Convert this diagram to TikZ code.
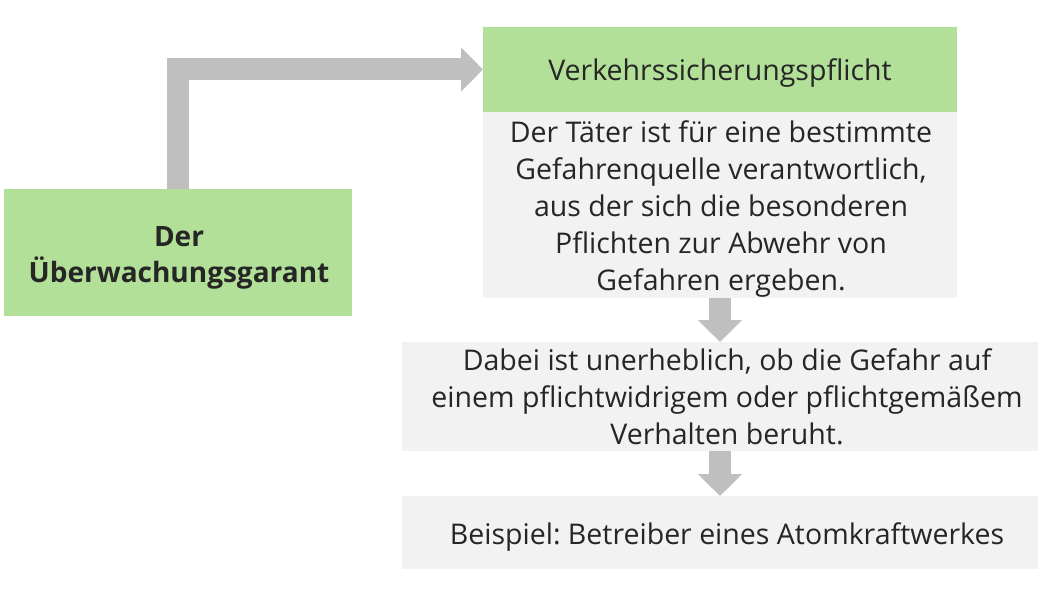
\documentclass[tikz,border=0pt]{standalone}
\usepackage{fontspec}
\setmainfont{Open Sans}
\usetikzlibrary{arrows.meta}
\definecolor{boxgreen}{RGB}{179,224,152}
\definecolor{boxgrey}{RGB}{242,242,242}
\definecolor{arrowgrey}{RGB}{191,191,191}
\definecolor{txt}{RGB}{38,38,38}
\frenchspacing
\begin{document}
\begin{tikzpicture}[x=1pt,y=-1pt,
  box/.style={rectangle, inner sep=0pt, outer sep=0pt},
  greenbox/.style={box, fill=boxgreen},
  greybox/.style={box, fill=boxgrey},
  label text/.style={inner sep=0pt, align=center, text=txt, font=\fontsize{28.5}{37}\selectfont},
  bold text/.style={label text, font=\fontsize{28}{36}\selectfont\bfseries},
  flow/.style={draw=arrowgrey, line width=22pt, -{Triangle[length=22pt,width=43pt]}, line join=miter}]
\useasboundingbox (0,0) rectangle (1057,591);
% boxes
\node[greenbox, minimum width=348pt, minimum height=127pt] (garant) at (178,252.5) {};
\node[greenbox, minimum width=474pt, minimum height=85pt] (pflicht) at (720,69.5) {};
\node[greybox, minimum width=474pt, minimum height=186pt] (def) at (720,205) {};
\node[greybox, minimum width=636pt, minimum height=109pt] (egal) at (720,396.5) {};
\node[greybox, minimum width=636pt, minimum height=73pt] (bsp) at (720,532.5) {};
% texts
\node[bold text] (garant-t) at (179,257.5) {Der\\Überwachungsgarant};
\node[label text] (pflicht-t) at (720,73.5) {Verkehrssicherungspflicht};
\node[label text] (def-t) at (721,209) {Der Täter ist für eine bestimmte\\Gefahrenquelle verantwortlich,\\aus der sich die besonderen\\Pflichten zur Abwehr von\\Gefahren ergeben.};
\node[label text] (egal-t) at (727,396.5) {Dabei ist unerheblich, ob die Gefahr auf\\einem pflichtwidrigem oder pflichtgemäßem\\Verhalten beruht.};
\node[label text] (bsp-t) at (727,537.5) {Beispiel: Betreiber eines Atomkraftwerkes};
% connectors
\draw[flow] (garant.north) -- (garant.north |- pflicht.west) -- (pflicht.west);
\draw[flow] (def.south) -- (egal.north);
\draw[flow] (egal.south) -- (bsp.north);
\end{tikzpicture}
\end{document}
